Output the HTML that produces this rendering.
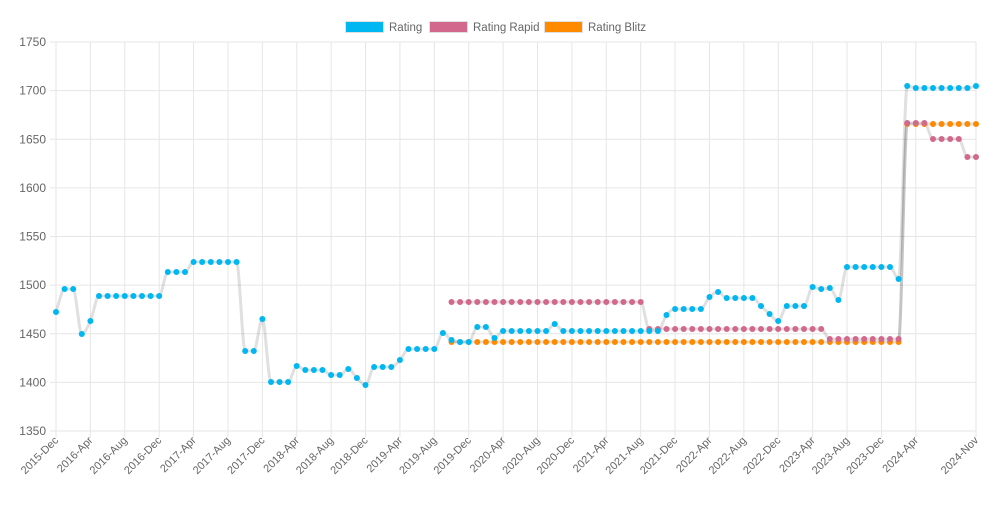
<!DOCTYPE html>
<html><head><meta charset="utf-8"><style>
body{margin:0;background:#fff;width:1000px;height:500px;overflow:hidden;font-family:"Liberation Sans",Arial,sans-serif}
</style></head><body>
<svg id="s" width="1000" height="500" xmlns="http://www.w3.org/2000/svg" font-family="Liberation Sans, Arial, sans-serif" font-size="12" fill="#666"></svg>
<script>
const s=document.getElementById('s');let h='';
const X=m=>56+m*920/107;
const Y=v=>42+(1750-v)*389/400;
h+='<g font-size="11.5">';
h+='<rect x="345.5" y="21.5" width="38" height="11" fill="#00b7f1" stroke="#e0e0e0"/><text x="389" y="31">Rating</text>';
h+='<rect x="429.5" y="21.5" width="38" height="11" fill="#d2688c" stroke="#e0e0e0"/><text x="473" y="31">Rating Rapid</text>';
h+='<rect x="544.5" y="21.5" width="38" height="11" fill="#ff8a00" stroke="#e0e0e0"/><text x="588" y="31">Rating Blitz</text>';
h+='</g>';
for(let i=0;i<=8;i++){let v=1750-i*50,y=Y(v);h+=`<line x1="50" x2="976" y1="${y}" y2="${y}" stroke="#e6e6e6"/><text x="46" y="${y+4}" text-anchor="end">${v}</text>`;}
let ticks=[];for(let m=0;m<=100;m+=4)ticks.push(m);ticks.push(107);
ticks.forEach(m=>{let x=X(m);h+=`<line x1="${x}" x2="${x}" y1="42" y2="437" stroke="#e6e6e6"/>`;
let yr,mo;if(m==107){yr=2024;mo='Nov'}else{let t=11+m;yr=2015+Math.floor(t/12);mo=['Jan','Feb','Mar','Apr','May','Jun','Jul','Aug','Sep','Oct','Nov','Dec'][t%12];}
h+=`<text font-size="11" transform="translate(${x+3},${441}) rotate(-45)" text-anchor="end">${yr}-${mo}</text>`;});
function ser(arr){return arr.map(([m,y])=>[X(m),y]);}
function expand(spec){let r=[];spec.forEach(([a,b,y])=>{for(let m=a;m<=b;m++)r.push([m,y])});return r;}
const blue=expand([[0,0,312],[1,2,289],[3,3,334],[4,4,321],[5,12,296],[13,15,272],[16,21,262],[22,23,351],[24,24,319],[25,27,382],[28,28,366],[29,31,370],[32,33,375],[34,34,369],[35,35,378],[36,36,385],[37,39,367],[40,40,360],[41,44,349],[45,45,333],[46,46,340],[47,48,342],[49,50,327],[51,51,338],[52,57,331],[58,58,324],[59,70,331],[71,71,315],[72,75,309],[76,76,297],[77,77,292],[78,81,298],[82,82,306],[83,83,314],[84,84,321],[85,87,306],[88,88,287],[89,89,289],[90,90,288],[91,91,300],[92,97,267],[98,98,279],[99,99,86],[100,106,88],[107,107,86]]);
const rapid=expand([[46,68,302],[69,89,329],[90,98,339],[99,101,123],[102,105,139],[106,107,157]]);
const blitz=expand([[46,98,342],[99,107,124]]);
function path(p){const n=p.length;let d=[],m=[];
for(let i=0;i<n-1;i++)d.push((p[i+1][1]-p[i][1])/(p[i+1][0]-p[i][0]));
for(let i=0;i<n;i++){if(i==0)m.push(d[0]);else if(i==n-1)m.push(d[n-2]);else m.push(d[i-1]*d[i]<=0?0:(d[i-1]+d[i])/2);}
for(let i=0;i<n-1;i++){if(d[i]==0){m[i]=0;m[i+1]=0;continue;}let a=m[i]/d[i],b=m[i+1]/d[i],q=a*a+b*b;if(q>9){let t=3/Math.sqrt(q);m[i]=t*a*d[i];m[i+1]=t*b*d[i];}}
let s=`M${p[0][0].toFixed(1)},${p[0][1]}`;
for(let i=0;i<n-1;i++){let dx=(p[i+1][0]-p[i][0])/3;
s+=` C${(p[i][0]+dx).toFixed(1)},${(p[i][1]+m[i]*dx).toFixed(1)} ${(p[i+1][0]-dx).toFixed(1)},${(p[i+1][1]-m[i+1]*dx).toFixed(1)} ${p[i+1][0].toFixed(1)},${p[i+1][1]}`;}
return `<path d="${s}" fill="none" stroke="rgba(0,0,0,0.12)" stroke-width="3"/>`;}
function dots(p,c){return p.map(q=>`<circle cx="${q[0].toFixed(1)}" cy="${q[1]}" r="3" fill="${c}"/>`).join('');}
const B=ser(blue),R=ser(rapid),O=ser(blitz);
h+=path(B)+path(R)+path(O);
h+=dots(O,'#ff8a00')+dots(R,'#d2688c')+dots(B,'#00b7f1');
s.innerHTML=h;
</script>
</body></html>
